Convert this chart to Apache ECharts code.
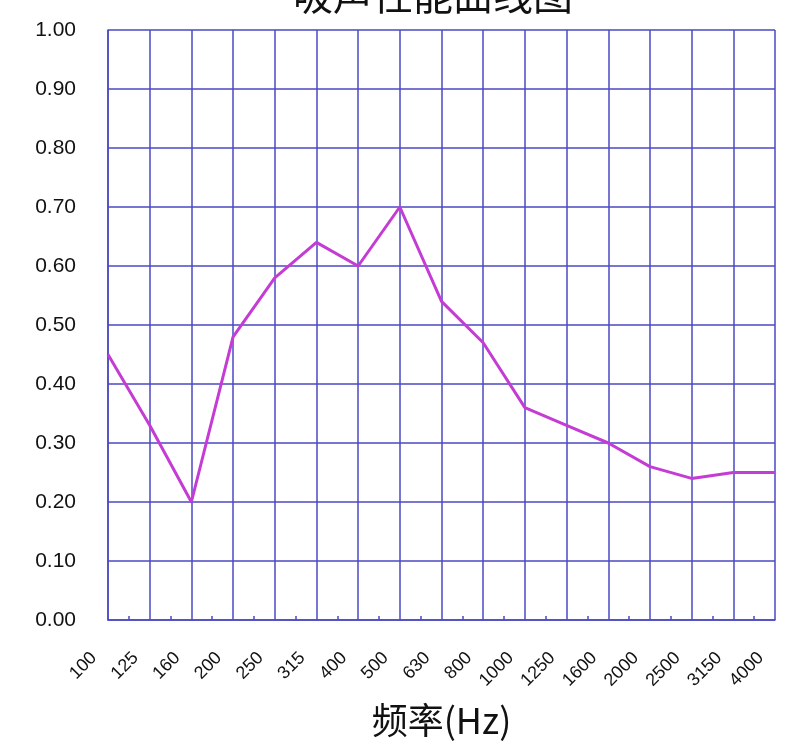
<!DOCTYPE html>
<html><head><meta charset="utf-8">
<script src="https://cdn.jsdelivr.net/npm/echarts@6/dist/echarts.min.js"></script>
<style>html,body{margin:0;padding:0;background:#fff}#c{width:786px;height:752px}</style>
</head><body><div id="c"></div>
<script>
const categories = ['100','125','160','200','250','315','400','500','630','800','1000','1250','1600','2000','2500','3150','4000'];
const absorption = [0.45,0.33,0.20,0.48,0.58,0.64,0.60,0.70,0.54,0.47,0.36,0.33,0.30,0.26,0.24,0.25,0.25];
const yTicks = {min:0, max:1, interval:0.1};
const chart = echarts.init(document.getElementById('c'));
const gridColor = '#4a4ac4';
chart.setOption({
  backgroundColor:'#fff',
  animation:false,
  title:{text:'吸声性能曲线图', left:288, top:-30, textStyle:{fontFamily:'Noto Sans CJK SC', fontSize:40, fontWeight:'normal', color:'#111'}},
  grid:{left:108, right:11, top:30, bottom:132},
  xAxis:[{type:'category', data:categories, boundaryGap:false,
    name:'频率(Hz)', nameLocation:'middle', nameGap:82,
    nameTextStyle:{fontFamily:'Noto Sans CJK SC', fontSize:36, color:'#111'},
    axisLine:{lineStyle:{color:gridColor, width:1.5}},
    axisTick:{show:false},
    axisLabel:{rotate:45, fontFamily:'Liberation Sans', fontSize:18, color:'#111', margin:21, padding:[0,20,0,0]},
    splitLine:{show:true, lineStyle:{color:gridColor, width:1.5}}},
   {type:'category', data:categories.slice(1), boundaryGap:true, position:'bottom',
    axisLine:{show:false}, axisLabel:{show:false}, splitLine:{show:false},
    axisTick:{show:true, alignWithLabel:true, inside:true, length:4, lineStyle:{color:gridColor, width:1.5}}}],
  yAxis:{type:'value', min:yTicks.min, max:yTicks.max, interval:yTicks.interval,
    axisLine:{show:true, lineStyle:{color:gridColor, width:1.5}},
    axisTick:{show:false},
    axisLabel:{formatter:v=>v.toFixed(2), fontFamily:'Liberation Sans', fontSize:21, color:'#111', margin:32},
    splitLine:{show:true, lineStyle:{color:gridColor, width:1.5}}},
  series:[{type:'line', xAxisIndex:0, data:absorption, symbol:'none',
    lineStyle:{color:'#c43cd4', width:3}}]
});
</script></body></html>
